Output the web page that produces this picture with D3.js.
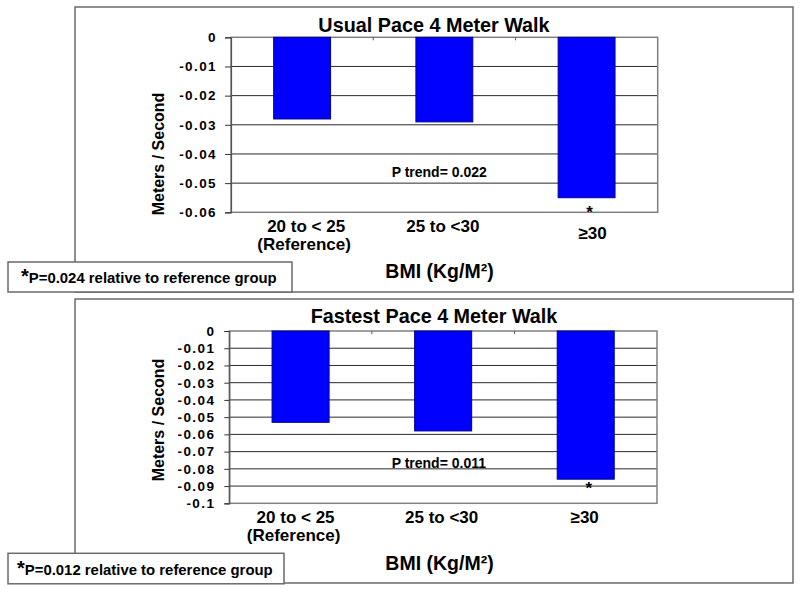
<!DOCTYPE html>
<html>
<head>
<meta charset="utf-8">
<script src="https://cdn.jsdelivr.net/npm/d3@7"></script>
<style>
  html, body { margin: 0; padding: 0; background: #fff; }
  svg { display: block; }
  text { font-family: "Liberation Sans", Arial, sans-serif; font-weight: bold; fill: #000; }
</style>
</head>
<body>
<svg id="chart" width="800" height="589"></svg>
<script>
// ---- data ----
const categories = ["20 to < 25", "25 to <30", "≥30"];
const categorySublabels = ["(Reference)", "", ""];
const usualPaceValues = [-0.028, -0.029, -0.055];
const fastestPaceValues = [-0.053, -0.058, -0.086];
const usualTicks = [0, -0.01, -0.02, -0.03, -0.04, -0.05, -0.06];
const usualTickLabels = ["0", "-0.01", "-0.02", "-0.03", "-0.04", "-0.05", "-0.06"];
const fastestTicks = [0, -0.01, -0.02, -0.03, -0.04, -0.05, -0.06, -0.07, -0.08, -0.09, -0.1];
const fastestTickLabels = ["0", "-0.01", "-0.02", "-0.03", "-0.04", "-0.05", "-0.06", "-0.07", "-0.08", "-0.09", "-0.1"];
const titles = ["Usual Pace 4 Meter Walk", "Fastest Pace 4 Meter Walk"];
const trendLabels = ["P trend= 0.022", "P trend= 0.011"];
const footnotes = ["P=0.024 relative to reference group", "P=0.012 relative to reference group"];
const significantIndex = 2;
const yAxisTitle = "Meters / Second";
const xAxisTitle = "BMI (Kg/M²)";

// ---- layout (positions / styles) ----
const panels = [
  {
    values: usualPaceValues, ticks: usualTicks, tickLabels: usualTickLabels,
    title: titles[0], trend: trendLabels[0], footnote: footnotes[0],
    frame: { x: 75, y: 7, w: 718, h: 285 },
    plot: { l: 231, t: 37.3, r: 657.7, b: 212.3 },
    titleY: 32, yTitleY: 154,
    xLabelY: 231.7, xSubY: 250, xLabelDx: [4, -1.5, 6], xLabelDy: [0, 0, 7.6],
    bmiY: 278, trendX: 391.7, trendY: 176.7, starY: 218.2,
    note: { x: 8, y: 262, w: 284, h: 30, tx: 21, ty: 283 },
    tickSize: 6, tickPad: 8
  },
  {
    values: fastestPaceValues, ticks: fastestTicks, tickLabels: fastestTickLabels,
    title: titles[1], trend: trendLabels[1], footnote: footnotes[1],
    frame: { x: 75, y: 299, w: 718, h: 284 },
    plot: { l: 229.3, t: 331, r: 657, b: 503.3 },
    titleY: 323, yTitleY: 420,
    xLabelY: 523.3, xSubY: 541, xLabelDx: [-5, -1.5, -1], xLabelDy: [0, 0, 0],
    bmiY: 570, trendX: 391.7, trendY: 468, starY: 494,
    note: { x: 8, y: 553.3, w: 276, h: 30.5, tx: 17, ty: 575 },
    tickSize: 5, tickPad: 9
  }
];

const svg = d3.select("#chart");
svg.append("rect").attr("width", 800).attr("height", 589).attr("fill", "#fff");

panels.forEach(p => {
  const g = svg.append("g");

  // outer frame
  g.append("rect")
    .attr("x", p.frame.x).attr("y", p.frame.y)
    .attr("width", p.frame.w).attr("height", p.frame.h)
    .attr("fill", "#fff").attr("stroke", "#6a6a6a").attr("stroke-width", 1.5);

  const x = d3.scaleBand().domain(categories)
    .range([p.plot.l, p.plot.r]).paddingInner(0.6).paddingOuter(0.3);
  const y = d3.scaleLinear().domain([0, d3.min(p.ticks)]).range([p.plot.t, p.plot.b]);

  // gridlines
  g.append("g").selectAll("line")
    .data(p.ticks.filter(t => t !== 0 && t !== d3.min(p.ticks)))
    .join("line")
    .attr("x1", p.plot.l).attr("x2", p.plot.r)
    .attr("y1", d => y(d)).attr("y2", d => y(d))
    .attr("stroke", "#2a2a2a").attr("stroke-width", 1);

  // plot border
  g.append("rect")
    .attr("x", p.plot.l).attr("y", p.plot.t)
    .attr("width", p.plot.r - p.plot.l).attr("height", p.plot.b - p.plot.t)
    .attr("fill", "none").attr("stroke", "#808080").attr("stroke-width", 1.5);

  // bars
  g.append("g").selectAll("rect")
    .data(p.values)
    .join("rect")
    .attr("x", (d, i) => x(categories[i]))
    .attr("width", x.bandwidth())
    .attr("y", y(0))
    .attr("height", d => y(d) - y(0))
    .attr("fill", "#0000ff").attr("stroke", "#00008b").attr("stroke-width", 1);

  // y axis
  const yAxis = d3.axisLeft(y)
    .tickValues(p.ticks)
    .tickFormat((d, i) => p.tickLabels[i])
    .tickSize(p.tickSize).tickPadding(p.tickPad);
  const ya = g.append("g").attr("transform", `translate(${p.plot.l},0)`).call(yAxis);
  ya.select(".domain").attr("stroke", "#555").attr("stroke-width", 1.2);
  ya.selectAll(".tick line").attr("stroke", "#333");
  ya.selectAll(".tick text")
    .style("font-family", '"Liberation Sans", Arial, sans-serif')
    .style("font-weight", "bold").style("font-size", "13.5px")
    .style("letter-spacing", "1.4px").attr("fill", "#000");

  // small category separator ticks at top edge (x axis at zero)
  const step = x.step();
  const boundaries = categories.slice(1).map(c => x(c) - step * x.paddingInner() / 2);
  g.append("g").selectAll("line").data(boundaries).join("line")
    .attr("x1", d => d).attr("x2", d => d)
    .attr("y1", y(0)).attr("y2", y(0) + 3)
    .attr("stroke", "#555").attr("stroke-width", 1);

  // category labels
  g.append("g").selectAll("text").data(categories).join("text")
    .attr("x", (d, i) => x(d) + x.bandwidth() / 2 + p.xLabelDx[i])
    .attr("y", (d, i) => p.xLabelY + p.xLabelDy[i])
    .attr("text-anchor", "middle").style("font-size", "17px")
    .text(d => d);
  g.append("g").selectAll("text").data(categorySublabels.filter(s => s)).join("text")
    .attr("x", x(categories[0]) + x.bandwidth() / 2 + p.xLabelDx[0] - 2)
    .attr("y", p.xSubY)
    .attr("text-anchor", "middle").style("font-size", "17px")
    .text(d => d);

  // title
  g.append("text").attr("x", 434).attr("y", p.titleY)
    .attr("text-anchor", "middle").style("font-size", "19.8px").text(p.title);

  // y axis title
  g.append("text")
    .attr("transform", `translate(164,${p.yTitleY}) rotate(-90)`)
    .attr("text-anchor", "middle").style("font-size", "16px").text(yAxisTitle);

  // x axis title
  g.append("text").attr("x", 439.5).attr("y", p.bmiY)
    .attr("text-anchor", "middle").style("font-size", "19.5px").text(xAxisTitle);

  // trend label
  g.append("text").attr("x", p.trendX).attr("y", p.trendY)
    .style("font-size", "14px").text(p.trend);

  // significance star
  g.append("text")
    .attr("x", x(categories[significantIndex]) + x.bandwidth() / 2 + 3)
    .attr("y", p.starY)
    .attr("text-anchor", "middle").style("font-size", "17px").text("*");

  // footnote box
  g.append("rect")
    .attr("x", p.note.x).attr("y", p.note.y)
    .attr("width", p.note.w).attr("height", p.note.h)
    .attr("fill", "#fff").attr("stroke", "#6a6a6a").attr("stroke-width", 1.5);
  const ft = g.append("text").attr("x", p.note.tx).attr("y", p.note.ty);
  ft.append("tspan").style("font-size", "20px").text("*");
  ft.append("tspan").style("font-size", "14.9px").text(p.footnote);
});
</script>
</body>
</html>
